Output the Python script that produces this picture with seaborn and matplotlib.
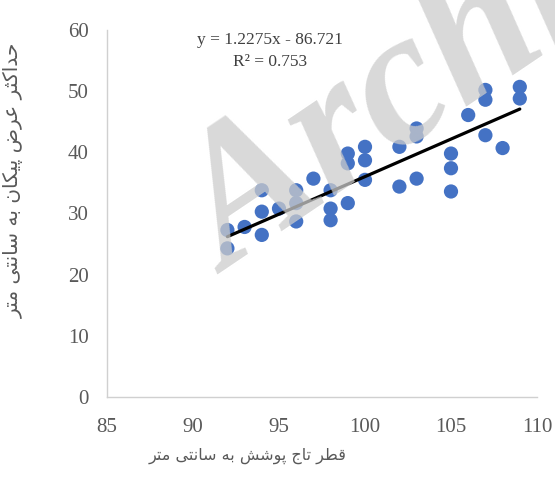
import matplotlib
matplotlib.use("Agg")
import matplotlib.pyplot as plt
import seaborn as sns
import pandas as pd

# Crown diameter (cm) and maximum arrow width (cm) for each measured plant
crown_diameter = [92, 92, 93, 94, 94, 94, 95, 96, 96, 96, 97, 98, 98, 98,
                  99, 99, 99, 100, 100, 100, 102, 102, 103, 103, 103,
                  105, 105, 105, 106, 107, 107, 107, 108, 109, 109]
max_width = [27.3, 24.3, 27.8, 33.8, 30.3, 26.5, 30.8, 33.8, 31.7, 28.7,
             35.7, 33.8, 30.8, 28.9, 39.8, 38.2, 31.7, 40.9, 38.7, 35.5,
             40.9, 34.4, 43.9, 42.6, 35.7, 39.8, 37.4, 33.6, 46.1, 50.2,
             48.6, 42.8, 40.7, 50.7, 48.8]

# Linear trend reported for the data
slope = 1.2275
intercept = -86.721
r_squared = 0.753

x_ticks = [85, 90, 95, 100, 105, 110]
y_ticks = [0, 10, 20, 30, 40, 50, 60]

x_title = "قطر تاج پوشش به سانتی متر"
y_title = "حداکثر عرض پیکان به سانتی متر"

# Contextual glyph forms: (isolated, final, initial, medial)
ARABIC_FORMS = {
    "ا": (0xFE8D, 0xFE8E, None, None),
    "ب": (0xFE8F, 0xFE90, 0xFE91, 0xFE92),
    "پ": (0xFB56, 0xFB57, 0xFB58, 0xFB59),
    "ت": (0xFE95, 0xFE96, 0xFE97, 0xFE98),
    "ث": (0xFE99, 0xFE9A, 0xFE9B, 0xFE9C),
    "ج": (0xFE9D, 0xFE9E, 0xFE9F, 0xFEA0),
    "ح": (0xFEA1, 0xFEA2, 0xFEA3, 0xFEA4),
    "د": (0xFEA9, 0xFEAA, None, None),
    "ر": (0xFEAD, 0xFEAE, None, None),
    "س": (0xFEB1, 0xFEB2, 0xFEB3, 0xFEB4),
    "ش": (0xFEB5, 0xFEB6, 0xFEB7, 0xFEB8),
    "ض": (0xFEBD, 0xFEBE, 0xFEBF, 0xFEC0),
    "ط": (0xFEC1, 0xFEC2, 0xFEC3, 0xFEC4),
    "ع": (0xFEC9, 0xFECA, 0xFECB, 0xFECC),
    "ق": (0xFED5, 0xFED6, 0xFED7, 0xFED8),
    "ک": (0xFB8E, 0xFB8F, 0xFB90, 0xFB91),
    "م": (0xFEE1, 0xFEE2, 0xFEE3, 0xFEE4),
    "ن": (0xFEE5, 0xFEE6, 0xFEE7, 0xFEE8),
    "ه": (0xFEE9, 0xFEEA, 0xFEEB, 0xFEEC),
    "و": (0xFEED, 0xFEEE, None, None),
    "ی": (0xFBFC, 0xFBFD, 0xFBFE, 0xFBFF),
}


def shape_rtl(text):
    """Join Persian letters into their contextual forms and lay them out right to left."""
    out = []
    for i, ch in enumerate(text):
        forms = ARABIC_FORMS.get(ch)
        if forms is None:
            out.append(ch)
            continue
        prev = text[i - 1] if i > 0 else ""
        nxt = text[i + 1] if i + 1 < len(text) else ""
        joins_prev = prev in ARABIC_FORMS and ARABIC_FORMS[prev][2] is not None
        joins_next = forms[2] is not None and nxt in ARABIC_FORMS
        if joins_prev and joins_next:
            code = forms[3]
        elif joins_prev:
            code = forms[1]
        elif joins_next:
            code = forms[2]
        else:
            code = forms[0]
        out.append(chr(code))
    return "".join(reversed(out))


sns.set_theme(style="white")

W, H = 555, 492
fig = plt.figure(figsize=(W / 100, H / 100), dpi=100)
ax = fig.add_axes([107 / W, 1 - 397 / H, (537 - 107) / W, (397 - 30) / H])

df = pd.DataFrame({"crown": crown_diameter, "width": max_width})
sns.scatterplot(data=df, x="crown", y="width", ax=ax, s=105,
                color="#4472C4", edgecolor="none", linewidth=0, zorder=3)

line_x = [min(crown_diameter), max(crown_diameter)]
line_y = [slope * v + intercept for v in line_x]
sns.lineplot(x=line_x, y=line_y, ax=ax, color="black", linewidth=2.3, zorder=4)

ax.set_xlim(85, 110)
ax.set_ylim(0, 60)
ax.set_xticks(x_ticks)
ax.set_yticks(y_ticks)
ax.set_xlabel("")
ax.set_ylabel("")
ax.grid(False)

for side in ("top", "right"):
    ax.spines[side].set_visible(False)
for side in ("left", "bottom"):
    ax.spines[side].set_color("#d0d0d0")
    ax.spines[side].set_linewidth(1.0)

ax.tick_params(axis="both", length=0, colors="#595959")
ax.tick_params(axis="y", pad=13)
ax.tick_params(axis="x", pad=15)
for lbl in ax.get_xticklabels() + ax.get_yticklabels():
    lbl.set_fontfamily("Liberation Serif")
    lbl.set_fontsize(15)

eq_x = 94.5
ax.text(eq_x, 58.4, f"y = {slope}x - {abs(intercept)}", ha="center", va="center",
        fontsize=12.5, family="Liberation Serif", color="#404040")
ax.text(eq_x, 54.8, f"R² = {r_squared}", ha="center", va="center",
        fontsize=12.5, family="Liberation Serif", color="#404040")

fig.text(248 / W, 1 - 456 / H, shape_rtl(x_title), ha="center", va="center",
         fontsize=11.5, family="DejaVu Sans", color="#595959")
fig.text(14 / W, 1 - 180 / H, shape_rtl(y_title), ha="center", va="center",
         rotation=90, fontsize=14.5, family="DejaVu Sans", color="#595959")

# Repository watermark laid over the chart
fig.text(228 / W, 1 - 274 / H, "Archive", rotation=34, rotation_mode="anchor",
         ha="left", va="baseline", fontsize=138, family="Liberation Serif",
         weight="bold", style="italic", color="#cccccc", alpha=0.75, zorder=10)

fig.savefig("out.png", dpi=100)
